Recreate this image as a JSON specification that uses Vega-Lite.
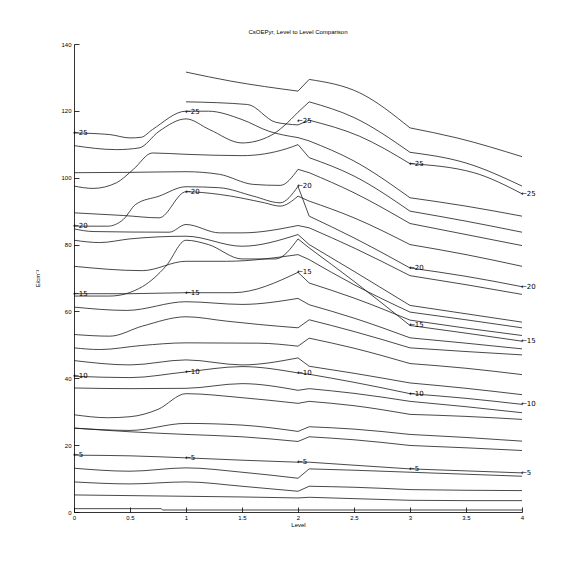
{
"$schema":"https://vega.github.io/schema/vega-lite/v6.json",
"autosize":{"type":"none"},
"width":448,"height":468,
"padding":{"left":74,"top":44,"right":54,"bottom":64},
"background":"white",
"title":{"text":"CsOEPyr, Level to Level Comparison","fontSize":6,"fontWeight":"normal","font":"Liberation Sans","color":"black","offset":6},
"config":{"view":{"stroke":null},"axis":{"domainColor":"black","tickColor":"black","labelColor":"black","titleColor":"black","labelFont":"Liberation Sans","titleFont":"Liberation Sans","labelFontSize":6,"titleFontSize":6,"titleFontWeight":"normal","grid":false,"domainWidth":0.8,"tickWidth":0.8}},
"datasets":{
"lines":[
{"id":1,"s":"a","x":0,"y":1.0},{"id":1,"s":"a","x":0.78,"y":1.0},{"id":1,"s":"a","x":0.79,"y":0.6},{"id":1,"s":"a","x":4,"y":0.6},

{"id":2,"s":"a","x":0,"y":5.1},{"id":2,"s":"a","x":0.5,"y":4.9},{"id":2,"s":"a","x":1,"y":4.7},{"id":2,"s":"a","x":1.5,"y":4.5},{"id":2,"s":"a","x":2,"y":4.2},
{"id":2,"s":"b","x":2,"y":4.2},{"id":2,"s":"b","x":2.1,"y":4.4},
{"id":2,"s":"c","x":2.1,"y":4.4},{"id":2,"s":"c","x":2.5,"y":4.0},{"id":2,"s":"c","x":3,"y":3.5},
{"id":2,"s":"d","x":3,"y":3.5},{"id":2,"s":"d","x":3.5,"y":3.4},{"id":2,"s":"d","x":4,"y":3.4},

{"id":3,"s":"a","x":0,"y":9.0},{"id":3,"s":"a","x":0.5,"y":8.4},{"id":3,"s":"a","x":1,"y":9.0},{"id":3,"s":"a","x":1.5,"y":7.7},{"id":3,"s":"a","x":2,"y":6.2},
{"id":3,"s":"b","x":2,"y":6.2},{"id":3,"s":"b","x":2.1,"y":7.7},
{"id":3,"s":"c","x":2.1,"y":7.7},{"id":3,"s":"c","x":2.5,"y":7.4},{"id":3,"s":"c","x":3,"y":6.7},
{"id":3,"s":"d","x":3,"y":6.7},{"id":3,"s":"d","x":3.5,"y":6.5},{"id":3,"s":"d","x":4,"y":6.4},

{"id":4,"s":"a","x":0,"y":13.1},{"id":4,"s":"a","x":0.5,"y":12.2},{"id":4,"s":"a","x":1,"y":13.2},{"id":4,"s":"a","x":1.5,"y":11.9},{"id":4,"s":"a","x":2,"y":10.1},
{"id":4,"s":"b","x":2,"y":10.1},{"id":4,"s":"b","x":2.1,"y":12.9},
{"id":4,"s":"c","x":2.1,"y":12.9},{"id":4,"s":"c","x":2.5,"y":12.5},{"id":4,"s":"c","x":3,"y":11.9},
{"id":4,"s":"d","x":3,"y":11.9},{"id":4,"s":"d","x":3.5,"y":11.3},{"id":4,"s":"d","x":4,"y":10.7},

{"id":5,"s":"a","x":0,"y":17.0},{"id":5,"s":"a","x":0.5,"y":16.8},{"id":5,"s":"a","x":1,"y":16.2},{"id":5,"s":"a","x":1.5,"y":15.5},{"id":5,"s":"a","x":2,"y":14.9},
{"id":5,"s":"b","x":2,"y":14.9},{"id":5,"s":"b","x":2.1,"y":14.9},
{"id":5,"s":"c","x":2.1,"y":14.9},{"id":5,"s":"c","x":2.5,"y":14.0},{"id":5,"s":"c","x":3,"y":12.9},
{"id":5,"s":"d","x":3,"y":12.9},{"id":5,"s":"d","x":3.5,"y":12.3},{"id":5,"s":"d","x":4,"y":11.7},

{"id":6,"s":"a","x":0,"y":25.1},{"id":6,"s":"a","x":0.5,"y":24.4},{"id":6,"s":"a","x":1,"y":26.5},{"id":6,"s":"a","x":1.5,"y":26.0},{"id":6,"s":"a","x":2,"y":24.1},
{"id":6,"s":"b","x":2,"y":24.1},{"id":6,"s":"b","x":2.1,"y":25.5},
{"id":6,"s":"c","x":2.1,"y":25.5},{"id":6,"s":"c","x":2.5,"y":24.8},{"id":6,"s":"c","x":3,"y":23.2},
{"id":6,"s":"d","x":3,"y":23.2},{"id":6,"s":"d","x":3.5,"y":22.3},{"id":6,"s":"d","x":4,"y":21.2},

{"id":7,"s":"a","x":0,"y":25.1},{"id":7,"s":"a","x":0.5,"y":24.0},{"id":7,"s":"a","x":1,"y":23.2},{"id":7,"s":"a","x":1.5,"y":22.5},{"id":7,"s":"a","x":2,"y":21.1},
{"id":7,"s":"b","x":2,"y":21.1},{"id":7,"s":"b","x":2.1,"y":22.5},
{"id":7,"s":"c","x":2.1,"y":22.5},{"id":7,"s":"c","x":2.5,"y":21.6},{"id":7,"s":"c","x":3,"y":19.9},
{"id":7,"s":"d","x":3,"y":19.9},{"id":7,"s":"d","x":3.5,"y":19.2},{"id":7,"s":"d","x":4,"y":18.4},

{"id":8,"s":"a","x":0,"y":29.1},{"id":8,"s":"a","x":0.3,"y":28.2},{"id":8,"s":"a","x":0.5,"y":28.5},{"id":8,"s":"a","x":0.75,"y":30.7},{"id":8,"s":"a","x":1,"y":35.4},{"id":8,"s":"a","x":1.5,"y":34.2},{"id":8,"s":"a","x":2,"y":32.5},
{"id":8,"s":"b","x":2,"y":32.5},{"id":8,"s":"b","x":2.1,"y":33.1},
{"id":8,"s":"c","x":2.1,"y":33.1},{"id":8,"s":"c","x":2.5,"y":31.8},{"id":8,"s":"c","x":3,"y":29.2},
{"id":8,"s":"d","x":3,"y":29.2},{"id":8,"s":"d","x":3.5,"y":28.6},{"id":8,"s":"d","x":4,"y":27.7},

{"id":9,"s":"a","x":0,"y":37.1},{"id":9,"s":"a","x":0.5,"y":36.9},{"id":9,"s":"a","x":1,"y":37.0},{"id":9,"s":"a","x":1.5,"y":38.4},{"id":9,"s":"a","x":2,"y":36.4},
{"id":9,"s":"b","x":2,"y":36.4},{"id":9,"s":"b","x":2.1,"y":36.9},
{"id":9,"s":"c","x":2.1,"y":36.9},{"id":9,"s":"c","x":2.5,"y":35.5},{"id":9,"s":"c","x":3,"y":33.1},
{"id":9,"s":"d","x":3,"y":33.1},{"id":9,"s":"d","x":3.5,"y":31.5},{"id":9,"s":"d","x":4,"y":29.7},

{"id":10,"s":"a","x":0,"y":40.6},{"id":10,"s":"a","x":0.5,"y":40.2},{"id":10,"s":"a","x":1,"y":41.9},{"id":10,"s":"a","x":1.5,"y":43.5},{"id":10,"s":"a","x":2,"y":41.6},
{"id":10,"s":"b","x":2,"y":41.6},{"id":10,"s":"b","x":2.1,"y":41.2},
{"id":10,"s":"c","x":2.1,"y":41.2},{"id":10,"s":"c","x":2.5,"y":38.8},{"id":10,"s":"c","x":3,"y":35.4},
{"id":10,"s":"d","x":3,"y":35.4},{"id":10,"s":"d","x":3.5,"y":34.0},{"id":10,"s":"d","x":4,"y":32.2},

{"id":11,"s":"a","x":0,"y":45.3},{"id":11,"s":"a","x":0.5,"y":44.0},{"id":11,"s":"a","x":1,"y":45.5},{"id":11,"s":"a","x":1.5,"y":44.0},{"id":11,"s":"a","x":2,"y":46.1},
{"id":11,"s":"b","x":2,"y":46.1},{"id":11,"s":"b","x":2.1,"y":43.6},
{"id":11,"s":"c","x":2.1,"y":43.6},{"id":11,"s":"c","x":2.5,"y":41.5},{"id":11,"s":"c","x":3,"y":38.6},
{"id":11,"s":"d","x":3,"y":38.6},{"id":11,"s":"d","x":3.5,"y":37.0},{"id":11,"s":"d","x":4,"y":35.1},

{"id":12,"s":"a","x":0,"y":49.1},{"id":12,"s":"a","x":0.23,"y":48.6},{"id":12,"s":"a","x":0.6,"y":49.8},{"id":12,"s":"a","x":1,"y":50.6},{"id":12,"s":"a","x":1.65,"y":50.5},{"id":12,"s":"a","x":2,"y":49.6},
{"id":12,"s":"b","x":2,"y":49.6},{"id":12,"s":"b","x":2.1,"y":52.0},
{"id":12,"s":"c","x":2.1,"y":52.0},{"id":12,"s":"c","x":2.5,"y":49.0},{"id":12,"s":"c","x":3,"y":44.4},
{"id":12,"s":"d","x":3,"y":44.4},{"id":12,"s":"d","x":3.5,"y":43.0},{"id":12,"s":"d","x":4,"y":41.1},

{"id":13,"s":"a","x":0,"y":53.1},{"id":13,"s":"a","x":0.32,"y":52.6},{"id":13,"s":"a","x":0.61,"y":55.6},{"id":13,"s":"a","x":1,"y":58.4},{"id":13,"s":"a","x":1.36,"y":57.1},{"id":13,"s":"a","x":1.65,"y":56.1},{"id":13,"s":"a","x":2,"y":55.1},
{"id":13,"s":"b","x":2,"y":55.1},{"id":13,"s":"b","x":2.1,"y":57.5},
{"id":13,"s":"c","x":2.1,"y":57.5},{"id":13,"s":"c","x":2.5,"y":54.0},{"id":13,"s":"c","x":3,"y":49.1},
{"id":13,"s":"d","x":3,"y":49.1},{"id":13,"s":"d","x":3.5,"y":48.0},{"id":13,"s":"d","x":4,"y":47.0},

{"id":14,"s":"a","x":0,"y":61.3},{"id":14,"s":"a","x":0.47,"y":60.3},{"id":14,"s":"a","x":1,"y":62.9},{"id":14,"s":"a","x":1.5,"y":62.1},{"id":14,"s":"a","x":2,"y":63.9},
{"id":14,"s":"b","x":2,"y":63.9},{"id":14,"s":"b","x":2.1,"y":62.0},
{"id":14,"s":"c","x":2.1,"y":62.0},{"id":14,"s":"c","x":2.5,"y":58.0},{"id":14,"s":"c","x":3,"y":52.1},
{"id":14,"s":"d","x":3,"y":52.1},{"id":14,"s":"d","x":3.5,"y":50.5},{"id":14,"s":"d","x":4,"y":48.8},

{"id":15,"s":"a","x":0,"y":65.3},{"id":15,"s":"a","x":0.5,"y":65.3},{"id":15,"s":"a","x":1,"y":65.6},{"id":15,"s":"a","x":1.42,"y":65.6},{"id":15,"s":"a","x":2,"y":71.7},
{"id":15,"s":"b","x":2,"y":71.7},{"id":15,"s":"b","x":2.1,"y":68.5},
{"id":15,"s":"c","x":2.1,"y":68.5},{"id":15,"s":"c","x":2.5,"y":64.0},{"id":15,"s":"c","x":3,"y":57.4},
{"id":15,"s":"d","x":3,"y":57.4},{"id":15,"s":"d","x":3.5,"y":55.0},{"id":15,"s":"d","x":4,"y":52.8},

{"id":16,"s":"a","x":0,"y":64.6},{"id":16,"s":"a","x":0.32,"y":64.6},{"id":16,"s":"a","x":0.61,"y":67.4},{"id":16,"s":"a","x":0.82,"y":73.5},{"id":16,"s":"a","x":1,"y":81.3},{"id":16,"s":"a","x":1.2,"y":80.0},{"id":16,"s":"a","x":1.5,"y":75.7},{"id":16,"s":"a","x":1.8,"y":75.7},{"id":16,"s":"a","x":2,"y":81.7},
{"id":16,"s":"b","x":2,"y":81.7},{"id":16,"s":"b","x":2.1,"y":79.0},
{"id":16,"s":"c","x":2.1,"y":79.0},{"id":16,"s":"c","x":2.5,"y":69.0},{"id":16,"s":"c","x":3,"y":55.8},
{"id":16,"s":"d","x":3,"y":55.8},{"id":16,"s":"d","x":3.5,"y":53.5},{"id":16,"s":"d","x":4,"y":51.1},

{"id":17,"s":"a","x":0,"y":73.5},{"id":17,"s":"a","x":0.61,"y":72.2},{"id":17,"s":"a","x":1,"y":75.0},{"id":17,"s":"a","x":1.36,"y":75.0},{"id":17,"s":"a","x":2,"y":77.0},
{"id":17,"s":"b","x":2,"y":77.0},{"id":17,"s":"b","x":2.1,"y":75.5},
{"id":17,"s":"c","x":2.1,"y":75.5},{"id":17,"s":"c","x":2.5,"y":68.0},{"id":17,"s":"c","x":3,"y":59.8},
{"id":17,"s":"d","x":3,"y":59.8},{"id":17,"s":"d","x":3.5,"y":57.5},{"id":17,"s":"d","x":4,"y":55.1},

{"id":18,"s":"a","x":0,"y":81.3},{"id":18,"s":"a","x":0.23,"y":80.6},{"id":18,"s":"a","x":0.5,"y":81.7},{"id":18,"s":"a","x":1,"y":82.5},{"id":18,"s":"a","x":1.5,"y":79.5},{"id":18,"s":"a","x":2,"y":83.0},
{"id":18,"s":"b","x":2,"y":83.0},{"id":18,"s":"b","x":2.1,"y":80.0},
{"id":18,"s":"c","x":2.1,"y":80.0},{"id":18,"s":"c","x":2.5,"y":72.0},{"id":18,"s":"c","x":3,"y":61.8},
{"id":18,"s":"d","x":3,"y":61.8},{"id":18,"s":"d","x":3.5,"y":59.3},{"id":18,"s":"d","x":4,"y":56.8},

{"id":19,"s":"a","x":0,"y":84.7},{"id":19,"s":"a","x":0.17,"y":83.9},{"id":19,"s":"a","x":0.85,"y":83.7},{"id":19,"s":"a","x":1,"y":86.0},{"id":19,"s":"a","x":1.3,"y":83.5},{"id":19,"s":"a","x":1.5,"y":83.5},{"id":19,"s":"a","x":2,"y":85.7},
{"id":19,"s":"b","x":2,"y":85.7},{"id":19,"s":"b","x":2.1,"y":85.0},
{"id":19,"s":"c","x":2.1,"y":85.0},{"id":19,"s":"c","x":2.5,"y":79.0},{"id":19,"s":"c","x":3,"y":70.7},
{"id":19,"s":"d","x":3,"y":70.7},{"id":19,"s":"d","x":3.5,"y":68.0},{"id":19,"s":"d","x":4,"y":65.1},

{"id":20,"s":"a","x":0,"y":85.5},{"id":20,"s":"a","x":0.3,"y":85.5},{"id":20,"s":"a","x":0.44,"y":87.5},{"id":20,"s":"a","x":0.55,"y":92.0},{"id":20,"s":"a","x":0.76,"y":94.5},{"id":20,"s":"a","x":1,"y":97.3},{"id":20,"s":"a","x":1.3,"y":97.0},{"id":20,"s":"a","x":1.6,"y":94.5},{"id":20,"s":"a","x":1.84,"y":92.5},{"id":20,"s":"a","x":2,"y":97.4},
{"id":20,"s":"b","x":2,"y":97.4},{"id":20,"s":"b","x":2.1,"y":88.5},
{"id":20,"s":"c","x":2.1,"y":88.5},{"id":20,"s":"c","x":2.5,"y":82.0},{"id":20,"s":"c","x":3,"y":73.0},
{"id":20,"s":"d","x":3,"y":73.0},{"id":20,"s":"d","x":3.5,"y":70.5},{"id":20,"s":"d","x":4,"y":67.4},

{"id":21,"s":"a","x":0,"y":89.5},{"id":21,"s":"a","x":0.44,"y":88.7},{"id":21,"s":"a","x":0.76,"y":88.0},{"id":21,"s":"a","x":1,"y":95.8},{"id":21,"s":"a","x":1.3,"y":95.0},{"id":21,"s":"a","x":1.7,"y":92.5},{"id":21,"s":"a","x":1.84,"y":91.5},{"id":21,"s":"a","x":2,"y":94.5},
{"id":21,"s":"b","x":2,"y":94.5},{"id":21,"s":"b","x":2.1,"y":93.0},
{"id":21,"s":"c","x":2.1,"y":93.0},{"id":21,"s":"c","x":2.5,"y":88.0},{"id":21,"s":"c","x":3,"y":80.0},
{"id":21,"s":"d","x":3,"y":80.0},{"id":21,"s":"d","x":3.5,"y":77.0},{"id":21,"s":"d","x":4,"y":73.5},

{"id":22,"s":"a","x":0,"y":97.5},{"id":22,"s":"a","x":0.17,"y":96.8},{"id":22,"s":"a","x":0.38,"y":98.5},{"id":22,"s":"a","x":0.53,"y":102.5},{"id":22,"s":"a","x":0.7,"y":107.4},{"id":22,"s":"a","x":1,"y":107.0},{"id":22,"s":"a","x":1.5,"y":106.6},{"id":22,"s":"a","x":1.9,"y":108.7},{"id":22,"s":"a","x":2,"y":109.9},
{"id":22,"s":"b","x":2,"y":109.9},{"id":22,"s":"b","x":2.1,"y":106.0},
{"id":22,"s":"c","x":2.1,"y":106.0},{"id":22,"s":"c","x":2.5,"y":100.5},{"id":22,"s":"c","x":3,"y":90.0},
{"id":22,"s":"d","x":3,"y":90.0},{"id":22,"s":"d","x":3.5,"y":87.0},{"id":22,"s":"d","x":4,"y":83.7},

{"id":23,"s":"a","x":0,"y":101.5},{"id":23,"s":"a","x":0.5,"y":101.6},{"id":23,"s":"a","x":1,"y":101.8},{"id":23,"s":"a","x":1.3,"y":101.0},{"id":23,"s":"a","x":1.6,"y":98.0},{"id":23,"s":"a","x":1.84,"y":97.7},{"id":23,"s":"a","x":2,"y":102.5},
{"id":23,"s":"b","x":2,"y":102.5},{"id":23,"s":"b","x":2.1,"y":101.5},
{"id":23,"s":"c","x":2.1,"y":101.5},{"id":23,"s":"c","x":2.5,"y":95.5},{"id":23,"s":"c","x":3,"y":86.3},
{"id":23,"s":"d","x":3,"y":86.3},{"id":23,"s":"d","x":3.5,"y":83.0},{"id":23,"s":"d","x":4,"y":79.7},

{"id":24,"s":"a","x":0,"y":109.6},{"id":24,"s":"a","x":0.38,"y":108.4},{"id":24,"s":"a","x":0.58,"y":108.9},{"id":24,"s":"a","x":0.76,"y":113.9},{"id":24,"s":"a","x":1,"y":117.6},{"id":24,"s":"a","x":1.21,"y":114.4},{"id":24,"s":"a","x":1.5,"y":110.4},{"id":24,"s":"a","x":1.75,"y":112.5},{"id":24,"s":"a","x":2,"y":119.6},
{"id":24,"s":"b","x":2,"y":119.6},{"id":24,"s":"b","x":2.1,"y":122.7},
{"id":24,"s":"c","x":2.1,"y":122.7},{"id":24,"s":"c","x":2.5,"y":118.0},{"id":24,"s":"c","x":3,"y":107.6},
{"id":24,"s":"d","x":3,"y":107.6},{"id":24,"s":"d","x":3.5,"y":104.4},{"id":24,"s":"d","x":4,"y":97.5},

{"id":25,"s":"a","x":0,"y":113.4},{"id":25,"s":"a","x":0.32,"y":112.9},{"id":25,"s":"a","x":0.5,"y":111.9},{"id":25,"s":"a","x":0.6,"y":112.1},{"id":25,"s":"a","x":0.7,"y":114.4},{"id":25,"s":"a","x":1,"y":119.9},{"id":25,"s":"a","x":1.2,"y":119.9},{"id":25,"s":"a","x":1.5,"y":117.4},{"id":25,"s":"a","x":1.74,"y":113.9},{"id":25,"s":"a","x":2,"y":112.0},
{"id":25,"s":"b","x":2,"y":112.0},{"id":25,"s":"b","x":2.1,"y":111.0},
{"id":25,"s":"c","x":2.1,"y":111.0},{"id":25,"s":"c","x":2.5,"y":105.0},{"id":25,"s":"c","x":3,"y":94.0},
{"id":25,"s":"d","x":3,"y":94.0},{"id":25,"s":"d","x":3.5,"y":91.5},{"id":25,"s":"d","x":4,"y":88.5},

{"id":26,"s":"a","x":1,"y":122.7},{"id":26,"s":"a","x":1.55,"y":121.9},{"id":26,"s":"a","x":1.8,"y":116.6},{"id":26,"s":"a","x":2,"y":115.8},
{"id":26,"s":"b","x":2,"y":115.8},{"id":26,"s":"b","x":2.1,"y":117.2},
{"id":26,"s":"c","x":2.1,"y":117.2},{"id":26,"s":"c","x":2.55,"y":112.4},{"id":26,"s":"c","x":3,"y":104.2},
{"id":26,"s":"d","x":3,"y":104.2},{"id":26,"s":"d","x":3.57,"y":101.5},{"id":26,"s":"d","x":4,"y":95.2},

{"id":27,"s":"a","x":1,"y":131.6},{"id":27,"s":"a","x":1.4,"y":128.9},{"id":27,"s":"a","x":2,"y":125.9},
{"id":27,"s":"b","x":2,"y":125.9},{"id":27,"s":"b","x":2.1,"y":129.4},
{"id":27,"s":"c","x":2.1,"y":129.4},{"id":27,"s":"c","x":2.55,"y":125.4},{"id":27,"s":"c","x":3,"y":114.9},
{"id":27,"s":"d","x":3,"y":114.9},{"id":27,"s":"d","x":3.42,"y":111.9},{"id":27,"s":"d","x":4,"y":106.3}
],
"labels":[
{"x":0,"y":17.0,"t":"←5"},{"x":0,"y":40.6,"t":"←10"},{"x":0,"y":65.3,"t":"←15"},{"x":0,"y":85.5,"t":"←20"},{"x":0,"y":113.4,"t":"←25"},
{"x":1,"y":16.2,"t":"←5"},{"x":1,"y":41.9,"t":"←10"},{"x":1,"y":65.6,"t":"←15"},{"x":1,"y":95.8,"t":"←20"},{"x":1,"y":119.7,"t":"←25"},
{"x":2,"y":14.9,"t":"←5"},{"x":2,"y":41.6,"t":"←10"},{"x":2,"y":71.7,"t":"←15"},{"x":2,"y":97.4,"t":"←20"},{"x":2,"y":117.1,"t":"←25"},
{"x":3,"y":12.9,"t":"←5"},{"x":3,"y":35.4,"t":"←10"},{"x":3,"y":55.8,"t":"←15"},{"x":3,"y":73.0,"t":"←20"},{"x":3,"y":104.2,"t":"←25"},
{"x":4,"y":11.7,"t":"←5"},{"x":4,"y":32.2,"t":"←10"},{"x":4,"y":51.1,"t":"←15"},{"x":4,"y":67.4,"t":"←20"},{"x":4,"y":95.2,"t":"←25"}
]},
"layer":[
{"data":{"name":"lines"},"mark":{"type":"line","color":"#1a1a1a","strokeWidth":0.8,"interpolate":"monotone","clip":false},
"encoding":{
"x":{"field":"x","type":"quantitative","scale":{"domain":[0,4],"nice":false},"axis":{"title":"Level","values":[0,0.5,1,1.5,2,2.5,3,3.5,4],"format":"~g","tickSize":-5,"labelPadding":7,"titlePadding":1,"labelFlush":false}},
"y":{"field":"y","type":"quantitative","scale":{"domain":[0,140],"nice":false},"axis":{"title":"E/cm⁻¹","values":[0,20,40,60,80,100,120,140],"tickSize":-5,"labelPadding":8,"titlePadding":20}},
"detail":[{"field":"id","type":"nominal"},{"field":"s","type":"nominal"}]}},
{"data":{"name":"labels"},"mark":{"type":"text","align":"left","baseline":"middle","fontSize":7,"font":"DejaVu Sans","color":"black","dx":-1},
"encoding":{"x":{"field":"x","type":"quantitative"},"y":{"field":"y","type":"quantitative"},"text":{"field":"t"}}}
]
}
